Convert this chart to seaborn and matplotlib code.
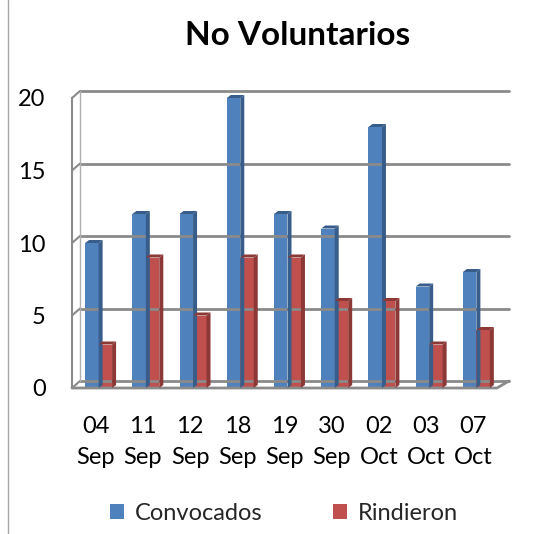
import matplotlib
matplotlib.use("Agg")
import matplotlib.pyplot as plt
import matplotlib.transforms as mtransforms
from matplotlib.patches import Polygon, Patch
from matplotlib.lines import Line2D
import seaborn as sns
import pandas as pd

# ---- data ----
fechas = ["04\nSep", "11\nSep", "12\nSep", "18\nSep", "19\nSep", "30\nSep", "02\nOct", "03\nOct", "07\nOct"]
convocados = [10, 12, 12, 20, 12, 11, 18, 7, 8]
rindieron = [3, 9, 5, 9, 9, 6, 6, 3, 4]
series = ["Convocados", "Rindieron"]
yticks = [0, 5, 10, 15, 20]
titulo = "No Voluntarios"

BLUE, RED = "#4F81BD", "#C0504D"
BLUE_D, RED_D = "#385D8A", "#8C3836"
GRID = "#8a8a8a"

df = pd.DataFrame({
    "fecha": fechas * 2,
    "valor": convocados + rindieron,
    "serie": [series[0]] * len(fechas) + [series[1]] * len(fechas),
})

sns.set_theme(style="white")
plt.rcParams["font.family"] = ["Lato", "DejaVu Sans"]

W = H = 534
fig = plt.figure(figsize=(W / 100, H / 100), dpi=100)
fig.patch.set_facecolor("white")
ax = fig.add_axes([72 / W, 1 - 388 / H, 425 / W, 290 / H])
ax.set_facecolor("none")

sns.barplot(data=df, x="fecha", y="valor", hue="serie", palette=[BLUE, RED],
            width=0.57, saturation=1, ax=ax, legend=False, zorder=3, linewidth=0)

ax.set_xlim(-0.5, len(fechas) - 0.5)
ax.set_ylim(0, 20)
ax.set_yticks(yticks)
ax.set_xlabel("")
ax.set_ylabel("")
for s in ax.spines.values():
    s.set_visible(False)
ax.tick_params(axis="both", length=0, labelsize=17, colors="black")
ax.tick_params(axis="y", pad=19)
ax.tick_params(axis="x", pad=20)
for t in ax.get_xticklabels():
    t.set_linespacing(1.6)

fig.canvas.draw()
SHIFT = 3  # px, depth shift of bars
shift_tr = mtransforms.ScaledTranslation(SHIFT / 100, 0, fig.dpi_scale_trans)
for p in ax.patches:
    p.set_transform(ax.transData + shift_tr)
T = ax.transData.transform

# ---- walls / gridlines (pseudo 3D) ----
DX, DY = 8, 7
xl = T((-0.5, 0))[0]
xr = T((len(fechas) - 0.5, 0))[0]
xr_back = xr + 12
for v in yticks:
    y = T((0, v))[1]
    fig.add_artist(Line2D([xl + DX, xr_back], [y + DY, y + DY], transform=None,
                          color=GRID, lw=2, zorder=1))
    fig.add_artist(Line2D([xl, xl + DX], [y, y + DY], transform=None,
                          color=GRID, lw=1.5, zorder=1))
y0 = T((0, 0))[1]
y20 = T((0, 20))[1]
fig.add_artist(Line2D([xl, xl], [y0, y20], transform=None, color=GRID, lw=1.5, zorder=1))
fig.add_artist(Line2D([xl + DX, xl + DX], [y0 + DY, y20 + DY], transform=None,
                      color="#b0b0b0", lw=1, zorder=1))
fig.add_artist(Line2D([xl, xr, xr_back], [y0, y0, y0 + DY], transform=None,
                      color=GRID, lw=2, zorder=1))

# ---- bar depth faces ----
d, dd = 4, 3
for p in ax.patches:
    h = p.get_height()
    if h <= 0:
        continue
    fc = p.get_facecolor()
    dark = BLUE_D if fc[2] > fc[0] else RED_D
    x0, yb = T((p.get_x(), 0))
    x1, yt = T((p.get_x() + p.get_width(), h))
    x0 += SHIFT
    x1 += SHIFT
    side = Polygon([(x1, yb), (x1 + d, yb + dd), (x1 + d, yt + dd), (x1, yt)],
                   closed=True, transform=None, facecolor=dark, edgecolor="none", zorder=4)
    top = Polygon([(x0, yt), (x0 + d, yt + dd), (x1 + d, yt + dd), (x1, yt)],
                  closed=True, transform=None, facecolor=dark, edgecolor="none", zorder=4)
    fig.add_artist(side)
    fig.add_artist(top)

# ---- title, legend, border ----
fig.text(297.5 / W, 1 - 36 / H, titulo, ha="center", va="center",
         fontsize=24, fontweight="bold", color="black")

handles = [Patch(facecolor=BLUE, edgecolor="none"), Patch(facecolor=RED, edgecolor="none")]
fig.legend(handles, series, loc="center", bbox_to_anchor=(284 / W, 1 - 513 / H),
           ncol=2, frameon=False, fontsize=17, handlelength=0.6, handleheight=0.6,
           handletextpad=0.45, columnspacing=3.0)

fig.add_artist(Line2D([8 / W, 8 / W], [0, 1], color="#a6a6a6", lw=1))

fig.savefig("out.png", dpi=100, facecolor="white")
